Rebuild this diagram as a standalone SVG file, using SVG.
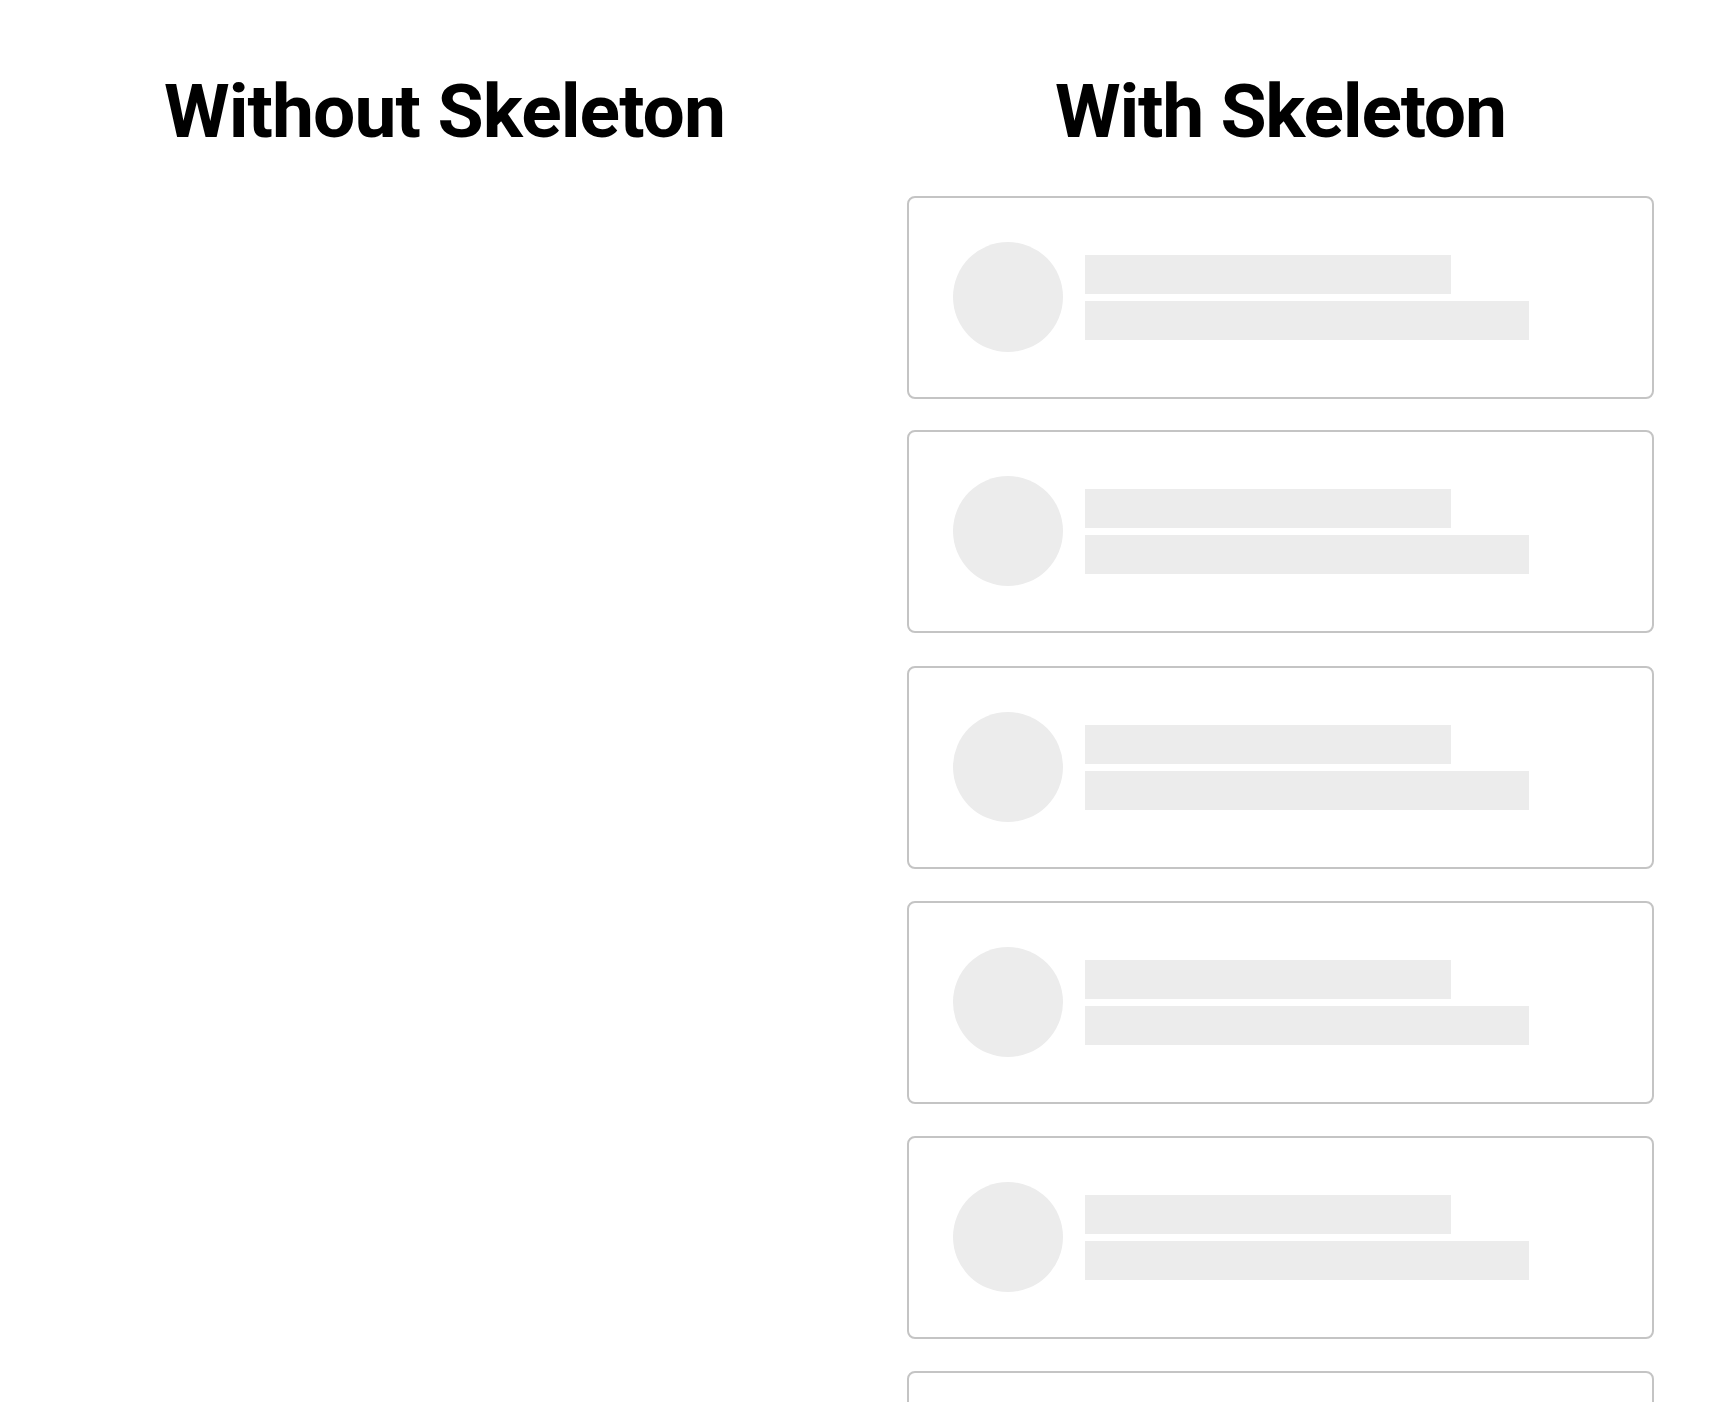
<svg xmlns="http://www.w3.org/2000/svg" width="1731" height="1402" viewBox="0 0 1731 1402">
<style>
.title{font-family:Roboto,"Liberation Sans",Arial,sans-serif;font-weight:bold;font-size:75px;fill:#000}
.card{fill:#fff;stroke:#c4c4c4;stroke-width:2}
.sk{fill:#ececec}
</style>
<defs>
<g id="cardTpl">
<rect class="card" x="908" y="0" width="745" height="201" rx="7"/>
<circle class="sk" cx="1008" cy="100" r="55"/>
<rect class="sk" x="1085" y="58" width="366" height="39"/>
<rect class="sk" x="1085" y="104" width="444" height="39"/>
</g>
</defs>
<rect width="1731" height="1402" fill="#fff"/>
<g id="title-without"><text class="title" x="164" y="137" textLength="562" lengthAdjust="spacing">Without Skeleton</text></g>
<g id="title-with"><text class="title" x="1055" y="137" textLength="452" lengthAdjust="spacing">With Skeleton</text></g>
<g id="card1"><use href="#cardTpl" y="197"/></g>
<g id="card2"><use href="#cardTpl" y="431"/></g>
<g id="card3"><use href="#cardTpl" y="667"/></g>
<g id="card4"><use href="#cardTpl" y="902"/></g>
<g id="card5"><use href="#cardTpl" y="1137"/></g>
<g id="card6"><use href="#cardTpl" y="1372"/></g>
<g id="connectors"></g>
</svg>
